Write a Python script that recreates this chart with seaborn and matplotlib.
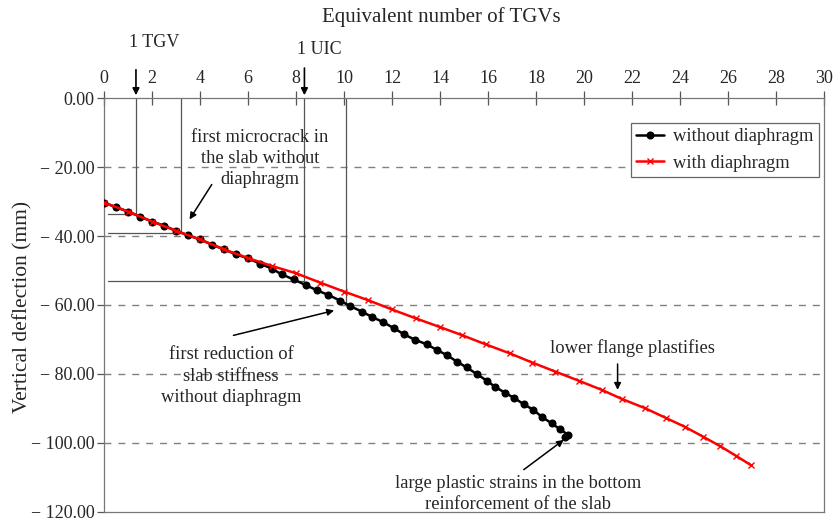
"""Vertical deflection vs equivalent number of TGVs, with and without diaphragm."""

import matplotlib

matplotlib.use("Agg")

import matplotlib.pyplot as plt
import numpy as np
import pandas as pd
import seaborn as sns

# without diaphragm (black dots)
x_without = [0.0, 0.5, 1.0, 1.5, 2.0, 2.5, 3.0, 3.5, 4.0, 4.5, 5.0, 5.5, 6.0, 6.5, 7.0,
             7.4, 7.9, 8.4, 8.86, 9.35, 9.83, 10.25, 10.74, 11.15, 11.64, 12.1, 12.5,
             12.96, 13.45, 13.86, 14.28, 14.7, 15.11, 15.53, 15.94, 16.29, 16.7, 17.1,
             17.5, 17.89, 18.24, 18.65, 19.0, 19.35, 19.2]
y_without = [-30.3, -31.7, -32.9, -34.4, -35.8, -37.0, -38.5, -39.8, -41.0, -42.5, -43.9,
             -45.3, -46.5, -48.0, -49.5, -51.1, -52.6, -54.2, -55.7, -57.1, -58.7, -60.3,
             -61.9, -63.4, -65.0, -66.8, -68.5, -70.1, -71.4, -73.0, -74.5, -76.4, -78.1,
             -80.0, -81.9, -83.7, -85.4, -87.0, -88.8, -90.4, -92.4, -94.3, -96.0, -97.7,
             -98.3]

# with diaphragm (red crosses)
x_with = [0, 1, 2, 3, 4, 5, 6, 7, 8, 9, 10, 11, 12, 13, 14, 14.9, 15.9, 16.9, 17.85,
          18.8, 19.8, 20.74, 21.6, 22.54, 23.4, 24.2, 24.97, 25.67, 26.33, 26.95]
y_with = [-30.3, -32.9, -35.8, -38.5, -41.0, -43.9, -46.4, -48.7, -50.8, -53.5, -56.1,
          -58.6, -61.3, -63.9, -66.4, -68.7, -71.4, -74.0, -76.7, -79.3, -82.0, -84.6,
          -87.3, -89.9, -92.7, -95.3, -98.2, -100.9, -103.7, -106.4]

x_ticks = list(range(0, 31, 2))
y_ticks = [0, -20, -40, -60, -80, -100, -120]
grid_levels = [-20, -40, -60, -80, -100]

# reference markers: (x position, y where the drop line ends, draw horizontal?)
guide_lines = [(1.33, -33.5, True), (3.2, -39.0, True), (8.35, -53.0, True), (10.07, -59.5, False)]

sns.set_style("white")
plt.rcParams["font.family"] = ["Liberation Serif", "DejaVu Serif"]

fig = plt.figure(figsize=(8.35, 5.18), dpi=100)
ax = fig.add_axes([0.1246, 0.0116, 0.8622, 0.7992])

df_without = pd.DataFrame({"x": x_without, "y": y_without})
df_with = pd.DataFrame({"x": x_with, "y": y_with})

for lvl in grid_levels:
    ax.axhline(lvl, color="#808080", lw=1.0, ls=(0, (5, 5)), zorder=1)

for gx, gy, horiz in guide_lines:
    ax.plot([gx, gx], [0, gy], color="#555555", lw=0.9, zorder=2)
    if horiz:
        ax.plot([0.18, gx], [gy, gy], color="#555555", lw=0.9, zorder=2)

sns.lineplot(data=df_without, x="x", y="y", ax=ax, color="black", lw=1.8,
             marker="o", markersize=5.8, markeredgewidth=0, markeredgecolor="black",
             sort=False, estimator=None, label="without diaphragm", zorder=3)
sns.lineplot(data=df_with, x="x", y="y", ax=ax, color="#ff0000", lw=1.8,
             marker="x", markersize=5, markeredgewidth=1.0, markeredgecolor="#ff0000",
             sort=False, estimator=None, label="with diaphragm", zorder=4)

ax.set_xlim(0, 30)
ax.set_ylim(-120, 0)
ax.xaxis.tick_top()
ax.xaxis.set_label_position("top")
ax.set_xticks(x_ticks)
ax.set_xticklabels([str(t) for t in x_ticks], fontsize=13)
ax.set_yticks(y_ticks)
ax.set_yticklabels([f"{t:.2f}".replace("-", "\u2212 ") for t in y_ticks], fontsize=13)
ax.tick_params(axis="x", direction="inout", length=10, width=0.9, color="#555555",
               pad=3, top=True, bottom=False)
ax.tick_params(axis="y", direction="out", length=5, width=0.9, color="#555555",
               pad=2, left=True)
for side in ["left", "right", "bottom", "top"]:
    ax.spines[side].set_color("#777777")
    ax.spines[side].set_linewidth(0.9)

ax.set_xlabel("")
ax.set_ylabel("Vertical deflection (mm)", fontsize=15.5)
ax.yaxis.set_label_coords(-0.099, 0.496)
fig.text(0.528, 0.967, "Equivalent number of TGVs", ha="center", va="center", fontsize=15)

# top arrows for 1 TGV and 1 UIC
ax.annotate("", xy=(1.33, 0), xytext=(1.33, 9.0), annotation_clip=False,
            arrowprops=dict(arrowstyle="-|>", color="black", lw=1.2, mutation_scale=10))
ax.annotate("", xy=(8.35, 0), xytext=(8.35, 9.5), annotation_clip=False,
            arrowprops=dict(arrowstyle="-|>", color="black", lw=1.2, mutation_scale=10))
ax.text(2.1, 16.0, "1 TGV", ha="center", va="center", fontsize=13)
ax.text(8.95, 14.2, "1 UIC", ha="center", va="center", fontsize=13)

arrow_kw = dict(arrowstyle="-|>", color="black", lw=1.1, mutation_scale=10)
ax.text(6.5, -17.6, "first microcrack in\nthe slab without\ndiaphragm",
        ha="center", va="center", fontsize=13.3, linespacing=1.3)
ax.annotate("", xy=(3.5, -35.9), xytext=(4.55, -24.4), arrowprops=arrow_kw)

ax.text(5.3, -80.6, "first reduction of\nslab stiffness\nwithout diaphragm",
        ha="center", va="center", fontsize=13.3, linespacing=1.33)
ax.annotate("", xy=(9.7, -61.4), xytext=(5.28, -69.0), arrowprops=arrow_kw)

ax.text(22.0, -72.4, "lower flange plastifies", ha="center", va="center", fontsize=13.3)
ax.annotate("", xy=(21.4, -85.4), xytext=(21.4, -76.3), arrowprops=arrow_kw)

ax.text(17.25, -114.8, "large plastic strains in the bottom\nreinforcement of the slab",
        ha="center", va="center", fontsize=13.3, linespacing=1.3)
ax.annotate("", xy=(19.25, -98.6), xytext=(17.4, -108.2), arrowprops=arrow_kw)

leg = ax.legend(loc="upper right", bbox_to_anchor=(0.993, 0.94), fontsize=13.3,
                frameon=True, fancybox=False, framealpha=1, edgecolor="#666666",
                handlelength=1.5, borderpad=0.3, labelspacing=0.5, handletextpad=0.5,
                borderaxespad=0)
leg.get_frame().set_linewidth(0.9)

fig.savefig("out.png", dpi=100)
